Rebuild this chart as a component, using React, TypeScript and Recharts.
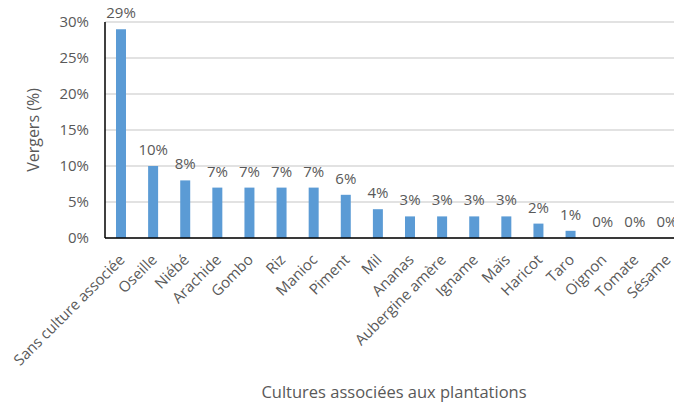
import { Bar, CartesianGrid, ComposedChart, Label, LabelList, Line, XAxis, YAxis } from "recharts";

const CATEGORIES = [
  "Sans culture associée",
  "Oseille",
  "Niébé",
  "Arachide",
  "Gombo",
  "Riz",
  "Manioc",
  "Piment",
  "Mil",
  "Ananas",
  "Aubergine amère",
  "Igname",
  "Maïs",
  "Haricot",
  "Taro",
  "Oignon",
  "Tomate",
  "Sésame",
];

const VERGERS = [29, 10, 8, 7, 7, 7, 7, 6, 4, 3, 3, 3, 3, 2, 1, 0, 0, 0];

const Y_TICKS = [0, 5, 10, 15, 20, 25, 30];

const FONT = "'Open Sans', sans-serif";
const INK = "#595959";
const BLUE = "#5B9BD5";

const data = CATEGORIES.map((name, i) => ({ name, value: VERGERS[i] }));

function CategoryTick({ x, y, payload }: { x?: number; y?: number; payload?: { value: string } }) {
  return (
    <g transform={`translate(${(x ?? 0) + 1},${(y ?? 0) + 11})`}>
      <text
        textAnchor="end"
        transform="rotate(-45)"
        dy="0.35em"
        fill={INK}
        fontSize={15}
        fontFamily={FONT}
      >
        {payload?.value}
      </text>
    </g>
  );
}

export default function App() {
  return (
    <div style={{ position: "fixed", left: 0, top: 0, width: 674, height: 403, overflow: "hidden", background: "#fff" }}>
      <ComposedChart
        width={700}
        height={403}
        data={data}
        margin={{ top: 22, right: 17, left: 0, bottom: 5 }}
        barSize={10}
      >
        <CartesianGrid vertical={false} stroke="#D9D9D9" strokeWidth={1.3} />
        <XAxis
          dataKey="name"
          interval={0}
          height={160}
          tickLine={false}
          axisLine={{ stroke: "#000", strokeWidth: 1.5 }}
          tick={<CategoryTick />}
        >
          <Label
            value="Cultures associées aux plantations"
            position="insideBottom"
            offset={0}
            fill={INK}
            fontSize={16.5}
            fontFamily={FONT}
          />
        </XAxis>
        <YAxis
          width={105}
          domain={[0, 30]}
          ticks={Y_TICKS}
          tickFormatter={(v: number) => `${v}%`}
          tickLine={false}
          tickSize={0}
          tickMargin={16}
          axisLine={{ stroke: "#000", strokeWidth: 1.5 }}
          tick={{ fill: INK, fontSize: 15, fontFamily: FONT }}
        >
          <Label
            content={() => (
              <text
                x={33}
                y={130}
                transform="rotate(-90, 33, 130)"
                textAnchor="middle"
                dominantBaseline="central"
                fill={INK}
                fontSize={16}
                fontFamily={FONT}
              >
                Vergers (%)
              </text>
            )}
          />
        </YAxis>
        <Bar dataKey="value" fill={BLUE} isAnimationActive={false} />
        <Line
          dataKey="value"
          stroke="none"
          dot={false}
          activeDot={false}
          legendType="none"
          isAnimationActive={false}
        >
          <LabelList
            dataKey="value"
            position="top"
            offset={11}
            formatter={(v: number) => `${v}%`}
            fill={INK}
            fontSize={15}
            fontFamily={FONT}
          />
        </Line>
      </ComposedChart>
    </div>
  );
}
